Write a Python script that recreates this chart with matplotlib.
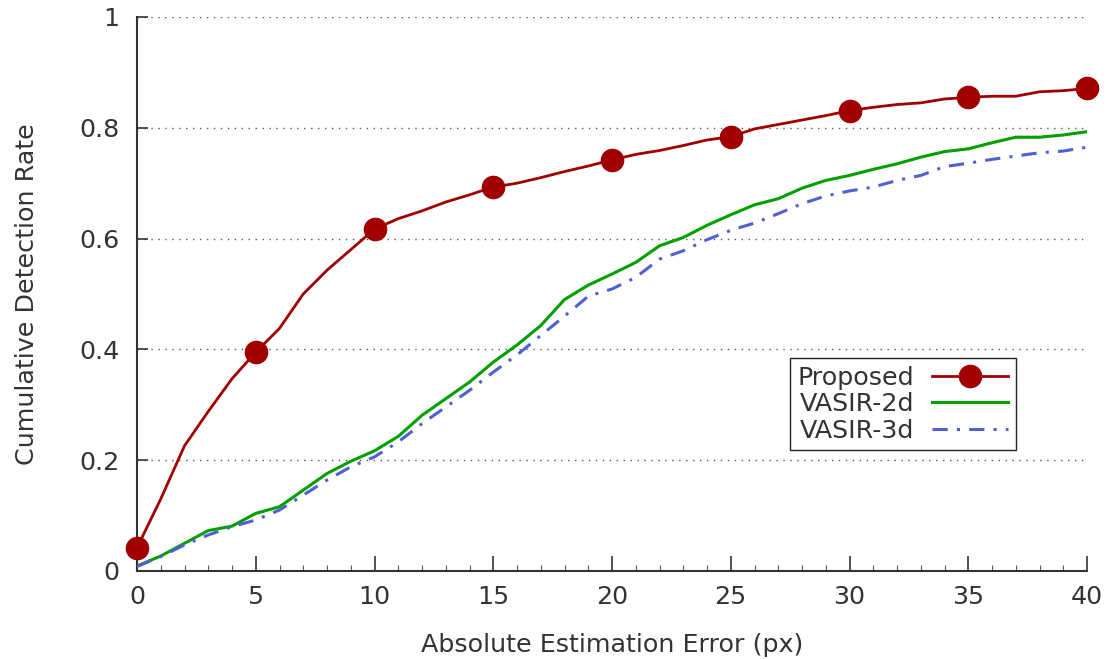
import matplotlib
matplotlib.use("Agg")
import matplotlib.pyplot as plt
from matplotlib.ticker import MultipleLocator, FixedLocator

x_vals = list(range(0, 41))
proposed = [0.042, 0.13, 0.226, 0.288, 0.347, 0.395, 0.438, 0.500, 0.543, 0.580,
            0.617, 0.636, 0.650, 0.666, 0.679, 0.693, 0.700, 0.710, 0.721, 0.731,
            0.742, 0.752, 0.759, 0.768, 0.778, 0.784, 0.798, 0.806, 0.814, 0.822,
            0.831, 0.837, 0.842, 0.845, 0.852, 0.855, 0.857, 0.857, 0.865, 0.867,
            0.871]
vasir_2d = [0.009, 0.027, 0.050, 0.073, 0.081, 0.104, 0.116, 0.146, 0.176, 0.198,
            0.217, 0.243, 0.281, 0.311, 0.341, 0.377, 0.408, 0.443, 0.490, 0.516,
            0.536, 0.557, 0.587, 0.602, 0.624, 0.643, 0.661, 0.672, 0.691, 0.705,
            0.714, 0.725, 0.735, 0.747, 0.757, 0.762, 0.773, 0.783, 0.783, 0.787,
            0.793]
vasir_3d = [0.008, 0.026, 0.047, 0.065, 0.080, 0.092, 0.110, 0.137, 0.164, 0.188,
            0.206, 0.233, 0.266, 0.296, 0.326, 0.359, 0.390, 0.425, 0.460, 0.496,
            0.509, 0.530, 0.563, 0.578, 0.598, 0.615, 0.628, 0.645, 0.663, 0.677,
            0.686, 0.693, 0.705, 0.714, 0.730, 0.736, 0.743, 0.749, 0.755, 0.758,
            0.765]
labels = ["Proposed", "VASIR-2d", "VASIR-3d"]
x_ticks = [0, 5, 10, 15, 20, 25, 30, 35, 40]
y_ticks = [0, 0.2, 0.4, 0.6, 0.8, 1.0]
y_ticklabels = ["0", "0.2", "0.4", "0.6", "0.8", "1"]

plt.rcParams['font.family'] = ['DejaVu Sans']
txt = '#333333'
fs = 18.3
fig = plt.figure(figsize=(11.08, 6.59), dpi=100)
ax = fig.add_axes([137/1108, 1-571/659, (1087-137)/1108, (571-17)/659])

ax.plot(x_vals, proposed, color='#A00000', lw=2.0, marker='o', markersize=16,
        markevery=5, label=labels[0], zorder=4, clip_on=False)
ax.plot(x_vals, vasir_2d, color='#00A000', lw=2.2, label=labels[1], zorder=3)
ax.plot(x_vals, vasir_3d, color='#5060D0', lw=2.2, linestyle=(0, (5, 3, 1, 3)),
        label=labels[2], zorder=3)

ax.set_xlim(0, 40)
ax.set_ylim(0, 1)
ax.xaxis.set_major_locator(FixedLocator(x_ticks))
ax.xaxis.set_minor_locator(MultipleLocator(1))
ax.set_yticks(y_ticks)
ax.set_yticklabels(y_ticklabels)
for s in ['top', 'right']:
    ax.spines[s].set_visible(False)
for s in ['left', 'bottom']:
    ax.spines[s].set_color('#333333')
    ax.spines[s].set_linewidth(1.5)
ax.tick_params(axis='x', which='major', direction='in', length=11, width=1.2,
               colors='#333333', labelcolor=txt, labelsize=fs, pad=10)
ax.tick_params(axis='x', which='minor', direction='in', length=4, width=0.8,
               colors='#555555')
ax.tick_params(axis='y', which='major', direction='in', length=8, width=1.2,
               colors='#333333', labelcolor=txt, labelsize=fs, pad=12.5)
ax.yaxis.grid(True, linestyle=(0, (1, 4)), color='#555555', lw=1.0)
ax.set_axisbelow(True)

ax.set_xlabel("Absolute Estimation Error (px)", fontsize=fs, color=txt, labelpad=17.5)
ax.set_ylabel("Cumulative Detection Rate", fontsize=fs, color=txt, labelpad=29)

leg = ax.legend(loc='upper left', bbox_to_anchor=(790/1108, 1-358/659),
                bbox_transform=fig.transFigure, borderaxespad=0,
                markerfirst=False, fontsize=fs, handlelength=3.0,
                labelspacing=0.1, handletextpad=0.7, borderpad=0.3,
                fancybox=False, framealpha=1, edgecolor='#222222')
leg.get_frame().set_linewidth(1.0)
for t in leg.get_texts():
    t.set_color(txt)

fig.savefig("out.png", dpi=100)
